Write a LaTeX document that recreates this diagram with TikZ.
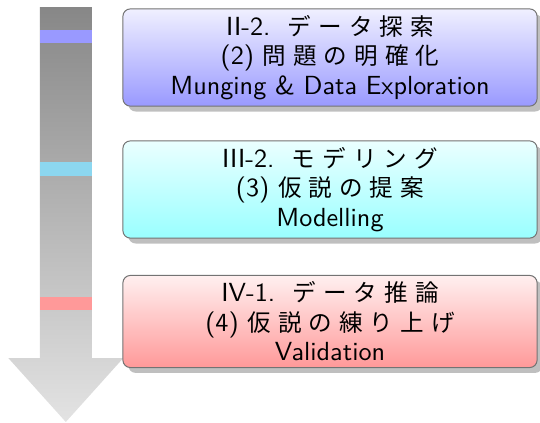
\documentclass[tikz,border=0pt]{standalone}
\usepackage{fontspec}
\newfontfamily\jpfont[Scale=0.9,LetterSpace=30]{Noto Sans CJK JP}
\usetikzlibrary{shadows}

\definecolor{bandcyan}{RGB}{140,215,240}

\tikzset{
  stagebox/.style={draw=black!55, rounded corners=3pt, drop shadow,
    minimum width=5.84cm, align=center, inner sep=2.6pt,
    font=\sffamily\fontsize{10.5}{11.8}\selectfont}
}

\begin{document}
\begin{tikzpicture}
\useasboundingbox (0,0) rectangle (7.614,-5.964);

% The time arrow
\shade[top color=black!47,bottom color=black!11] (0.561,-0.099) -- (1.295,-0.099) -- (1.295,-5.048) -- (1.739,-5.048)
  -- (0.928,-5.95) -- (0.117,-5.048) -- (0.561,-5.048) -- cycle;

% The stage marks
\fill[color=blue!40] (0.561,-0.423) rectangle (1.295,-0.606);
\fill[color=bandcyan] (0.561,-2.284) rectangle (1.295,-2.482);
\fill[color=red!40] (0.561,-4.188) rectangle (1.295,-4.371);

% The stages
\node[stagebox,top color=blue!6,bottom color=blue!40] (explore) at (4.653,-0.811)
  {II-2.~~{\jpfont データ探索}\\(2)~{\jpfont 問題の明確化}\\Munging \& Data Exploration};
\node[stagebox,top color=cyan!8,bottom color=cyan!40] (model) at (4.653,-2.672)
  {III-2.~~{\jpfont モデリング}\\(3)~{\jpfont 仮説の提案}\\Modelling};
\node[stagebox,top color=red!6,bottom color=red!40] (valid) at (4.653,-4.533)
  {IV-1.~~{\jpfont データ推論}\\(4)~{\jpfont 仮説の練り上げ}\\Validation};

\end{tikzpicture}
\end{document}
